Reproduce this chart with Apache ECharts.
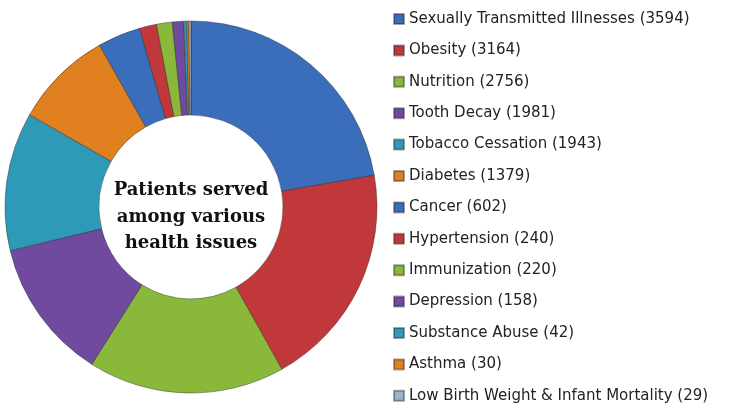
<!DOCTYPE html>
<html>
<head>
<meta charset="utf-8">
<script src="https://cdn.jsdelivr.net/npm/echarts@6/dist/echarts.min.js"></script>
<style>
html, body { margin: 0; padding: 0; background: #fff; }
#chart { width: 740px; height: 408px; }
</style>
</head>
<body>
<div id="chart"></div>
<script>
var names = ['Sexually Transmitted Illnesses', 'Obesity', 'Nutrition', 'Tooth Decay',
	'Tobacco Cessation', 'Diabetes', 'Cancer', 'Hypertension', 'Immunization',
	'Depression', 'Substance Abuse', 'Asthma', 'Low Birth Weight & Infant Mortality'];
var counts = [3594, 3164, 2756, 1981, 1943, 1379, 602, 240, 220, 158, 42, 30, 29];
var colors = ['#3a6dba', '#c0383a', '#8ab83a', '#6f4a9e', '#2e9ab8', '#e0801e',
	'#3a6dba', '#c0383a', '#8ab83a', '#6f4a9e', '#2e9ab8', '#e0801e', '#9fb3cf'];
var centerText = 'Patients served\namong various\nhealth issues';

var myChart = echarts.init(document.getElementById('chart'));
var pieData = [];
for (var i = 0; i < names.length; i++) {
	pieData.push({ name: names[i], value: counts[i] });
}
option = {
	animation: false,
	color: colors,
	legend: {
		orient: 'vertical',
		left: 393,
		top: 10,
		height: 420,
		padding: 0,
		itemWidth: 10,
		itemHeight: 10,
		itemGap: 13.4,
		icon: 'rect',
		formatter: function (name) {
			return name + ' (' + counts[names.indexOf(name)] + ')';
		},
		textStyle: {
			fontFamily: 'DejaVu Sans',
			fontSize: 15,
			lineHeight: 18,
			color: '#222'
		}
	},
	graphic: [{
		type: 'text',
		x: 191,
		y: 217,
		style: {
			text: centerText,
			textAlign: 'center',
			textVerticalAlign: 'middle',
			font: 'bold 18px "DejaVu Serif"',
			lineHeight: 26.5,
			fill: '#111'
		}
	}],
	series: [{
		type: 'pie',
		center: [191, 207],
		radius: [92, 186],
		startAngle: 90,
		clockwise: true,
		label: { show: false },
		labelLine: { show: false },
		itemStyle: {
			borderColor: 'rgba(30,30,30,0.4)',
			borderWidth: 1
		},
		data: pieData
	}]
};
myChart.setOption(option);
</script>
</body>
</html>
